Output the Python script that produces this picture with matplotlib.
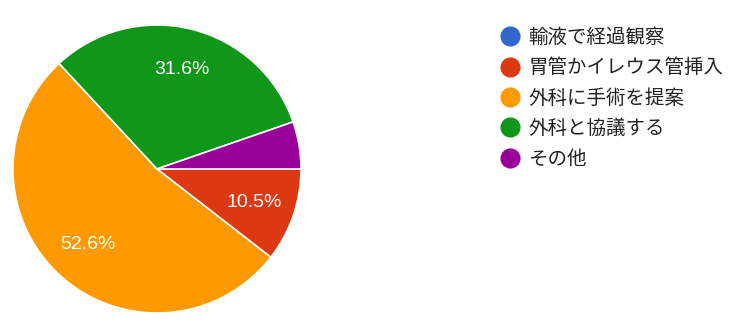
import numpy as np
import matplotlib as mpl
mpl.use('Agg')
import matplotlib.pyplot as plt
from matplotlib.lines import Line2D

plt.rcParams['font.family'] = ['Noto Sans CJK JP', 'DejaVu Sans']

# survey answers (share of responses, %)
labels = ['輸液で経過観察', '胃管かイレウス管挿入', '外科に手術を提案', '外科と協議する', 'その他']
shares = [0.0, 10.5, 52.6, 31.6, 5.3]
colors = ['#3366cc', '#dc3912', '#ff9900', '#109618', '#990099']


def pct_label(p):
	# small slices get no label, like the forms chart
	if p < 8:
		return ''
	return '%.1f%%' % p


fig = plt.figure(figsize=(7.36, 3.26), dpi=100)
ax = fig.add_axes([13 / 736, 13 / 326, 288 / 736, 288 / 326])
wedges, texts, autotexts = ax.pie(shares, colors=colors, startangle=0, counterclock=False,
	autopct=pct_label, pctdistance=0.71,
	wedgeprops=dict(edgecolor='white', linewidth=1.2))
for t in autotexts:
	t.set_color('white')
	t.set_fontsize(14)
	t.set_family(['Liberation Sans', 'DejaVu Sans'])
ax.set_xlim(-1, 1)
ax.set_ylim(-1, 1)
ax.set_aspect('equal')

handles = [Line2D([0], [0], marker='o', linestyle='', markersize=13.5,
	markerfacecolor=c, markeredgecolor=c) for c in colors]
leg = fig.legend(handles, labels, loc='upper left', bbox_to_anchor=(500 / 736, 1 - 27 / 326),
	frameon=False, fontsize=14, labelspacing=0.48, handlelength=1.0,
	handletextpad=0.45, borderpad=0, borderaxespad=0)
for t in leg.get_texts():
	t.set_color('#222222')

fig.savefig('out.png', dpi=100)
